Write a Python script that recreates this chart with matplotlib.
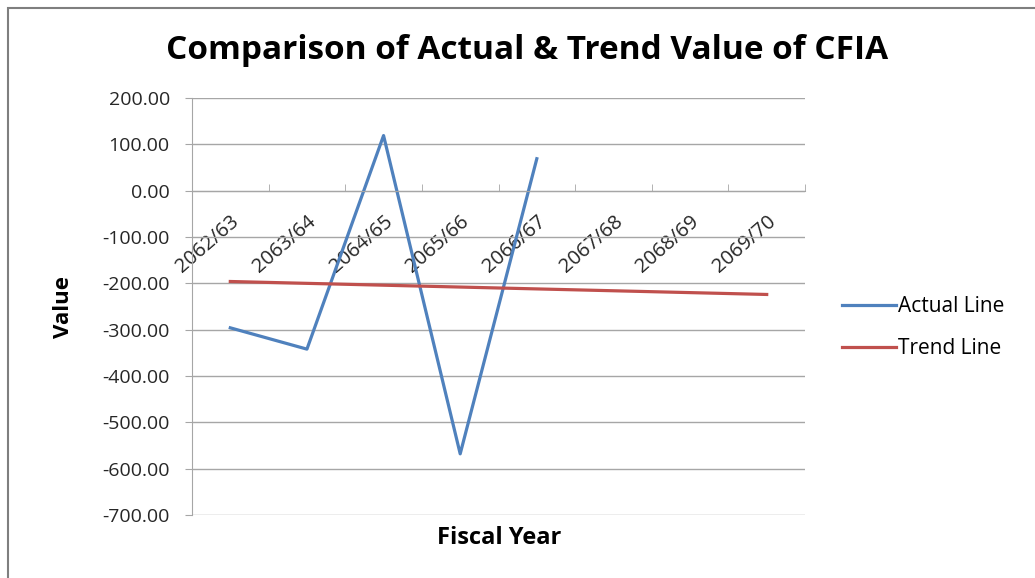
import numpy as np
import matplotlib.pyplot as plt
from matplotlib.patches import Rectangle

fiscal_years = ['2062/63', '2063/64', '2064/65', '2065/66',
                '2066/67', '2067/68', '2068/69', '2069/70']
actual_values = [-296, -342, 119, -568, 69]
trend_values = [-196, -200, -204, -208, -212, -216, -220, -224]

plt.rcParams['font.family'] = ['Open Sans', 'DejaVu Sans']

fig = plt.figure(figsize=(10.35, 5.78), dpi=100)
ax = fig.add_axes([0.1855, 0.109, 0.5923, 0.7214])

x_all = np.arange(len(fiscal_years))
l1, = ax.plot(x_all[:len(actual_values)], actual_values,
              color='#4F81BD', linewidth=2.3, label='Actual Line')
l2, = ax.plot(x_all, trend_values, color='#C0504D', linewidth=2.3,
              label='Trend Line')

ax.set_xlim(-0.5, len(fiscal_years) - 0.5)
ax.set_ylim(-700, 200)
ax.set_yticks(np.arange(-700, 201, 100))
ax.set_yticklabels(['{:.2f}'.format(v) for v in np.arange(-700, 201, 100)],
                   fontsize=14, color='#262626')
ax.yaxis.grid(True, color='#a6a6a6', linewidth=1)
ax.set_axisbelow(True)

# horizontal axis sits on the zero line, Excel style
ax.spines['bottom'].set_position(('data', 0))
ax.spines['bottom'].set_color('#a6a6a6')
ax.spines['left'].set_color('#a6a6a6')
ax.spines['top'].set_visible(False)
ax.spines['right'].set_visible(False)

ax.set_xticks(x_all)
ax.set_xticklabels(fiscal_years, rotation=41, ha='right', va='top',
                   rotation_mode='anchor', fontsize=14.5, color='#262626')
ax.tick_params(axis='x', which='major', length=0, pad=15)
ax.set_xticks(np.arange(-0.5, len(fiscal_years), 1.0), minor=True)
ax.tick_params(axis='x', which='minor', length=5, direction='in',
               color='#a6a6a6')
ax.tick_params(axis='y', length=5, direction='out', color='#a6a6a6', pad=11)

ax.set_ylabel('Value', fontsize=16, fontweight='bold', labelpad=20)
fig.text(0.482, 0.07, 'Fiscal Year', fontsize=17, fontweight='bold',
         ha='center', va='center')

fig.suptitle('Comparison of Actual & Trend Value of CFIA', x=0.509, y=0.913,
             fontsize=24, fontweight='bold', va='center')

fig.legend(handles=[l1, l2], loc='center left',
           bbox_to_anchor=(0.795, 0.433), frameon=False, fontsize=15,
           handlelength=2.6, handletextpad=0.1, labelspacing=1.0)

# outer chart frame
fig.patches.append(Rectangle((0.008, -0.01), 1.0, 0.997,
                             transform=fig.transFigure, fill=False,
                             edgecolor='#7f7f7f', linewidth=1.5))

fig.savefig('out.png', dpi=100)
